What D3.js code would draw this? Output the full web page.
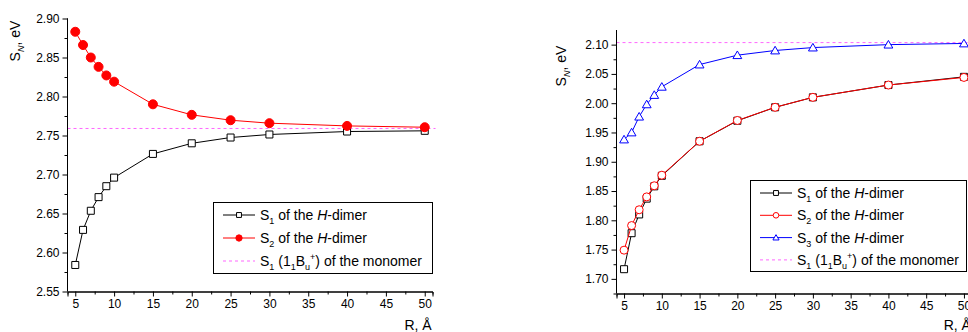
<!DOCTYPE html>
<html>
<head>
<meta charset="utf-8">
<script src="https://cdn.jsdelivr.net/npm/d3@7"></script>
<style>
  html, body { margin: 0; padding: 0; background: #fff; }
  svg { display: block; font-family: Arial, "Liberation Sans", sans-serif; }
</style>
</head>
<body>
<svg id="chart" width="968" height="332"></svg>
<script>
// distances, Å
var distances = [5, 6, 7, 8, 9, 10, 15, 20, 25, 30, 40, 50];

// left panel
var leftS1 = [2.584, 2.629, 2.6535, 2.671, 2.685, 2.696, 2.7264, 2.740, 2.7474, 2.7513, 2.7551, 2.756];
var leftS2 = [2.883, 2.866, 2.850, 2.838, 2.827, 2.819, 2.790, 2.7765, 2.7696, 2.7658, 2.7623, 2.7606];
var leftMonomer = 2.759;
var leftYTicks = [2.55, 2.60, 2.65, 2.70, 2.75, 2.80, 2.85, 2.90];

// right panel
var rightS1 = [1.7165, 1.778, 1.810, 1.837, 1.858, 1.876, 1.935, 1.970, 1.993, 2.010, 2.031, 2.045];
var rightS2 = [1.749, 1.791, 1.818, 1.840, 1.859, 1.877, 1.935, 1.9705, 1.993, 2.010, 2.031, 2.044];
var rightS3 = [1.938, 1.950, 1.977, 1.998, 2.014, 2.028, 2.066, 2.082, 2.090, 2.095, 2.100, 2.102];
var rightMonomer = 2.1035;
var rightYTicks = [1.70, 1.75, 1.80, 1.85, 1.90, 1.95, 2.00, 2.05, 2.10];

var xTicks = [5, 10, 15, 20, 25, 30, 35, 40, 45, 50];

var svg = d3.select('#chart');
var monoColor = '#ff66ff';

function panel(cfg) {
  var g = svg.append('g');
  var x = d3.scaleLinear().domain([4, 51]).range(cfg.xRange);
  var y = d3.scaleLinear().domain(cfg.yDomain).range(cfg.yRange);

  // monomer reference line
  g.append('line')
    .attr('x1', x.range()[0]).attr('x2', x.range()[1] + 3)
    .attr('y1', y(cfg.monomer)).attr('y2', y(cfg.monomer))
    .attr('stroke', monoColor).attr('stroke-width', 1)
    .attr('stroke-dasharray', '3,3');

  // axes
  var yAxis = d3.axisLeft(y).tickValues(cfg.yTicks).tickSize(5).tickPadding(3)
    .tickFormat(d3.format('.2f'));
  var yMinor = d3.axisLeft(y)
    .tickValues(d3.range(cfg.yDomain[0], cfg.yDomain[1], 0.025)
      .filter(function (v) { return Math.abs((v * 40) % 2 - 1) < 0.01; }))
    .tickSize(3).tickFormat('');
  var xAxis = d3.axisBottom(x).tickValues(xTicks).tickSize(5).tickPadding(3);
  var xMinor = d3.axisBottom(x)
    .tickValues(xTicks.map(function (v) { return v + 2.5; }).filter(function (v) { return v < 51; }))
    .tickSize(3).tickFormat('');

  [yAxis, yMinor].forEach(function (ax) {
    g.append('g').attr('transform', 'translate(' + x.range()[0] + ',0)').call(ax)
      .call(function (s) { s.select('.domain').attr('d', 'M0,' + y.range()[0] + 'V' + y.range()[1]); });
  });
  [xAxis, xMinor].forEach(function (ax) {
    g.append('g').attr('transform', 'translate(0,' + y.range()[0] + ')').call(ax);
  });
  g.selectAll('.tick text').attr('font-size', 12).attr('font-family', 'Arial, "Liberation Sans", sans-serif').attr('fill', '#000');
  g.selectAll('.domain, .tick line').attr('stroke', '#000');

  // series
  cfg.series.forEach(function (s) {
    var pts = distances.map(function (d, i) { return [x(d), y(s.values[i])]; });
    g.append('path').attr('d', d3.line()(pts))
      .attr('fill', 'none').attr('stroke', s.color).attr('stroke-width', 1);
    g.append('g').selectAll('path').data(pts).enter().append('path')
      .attr('transform', function (p) { return 'translate(' + p[0] + ',' + p[1] + ')'; })
      .attr('d', markerPath(s.marker, s.size))
      .attr('fill', s.fill).attr('stroke', s.color).attr('stroke-width', 1);
  });

  // y label
  var yl = g.append('text')
    .attr('transform', 'translate(' + cfg.yLabel[0] + ',' + cfg.yLabel[1] + ') rotate(-90)')
    .attr('text-anchor', 'middle').attr('font-size', 14);
  yl.append('tspan').text('S');
  yl.append('tspan').attr('font-size', 9).attr('font-style', 'italic').attr('dy', 4).text('N');
  yl.append('tspan').attr('dy', -4).text(', eV');

  // x label
  g.append('text').attr('x', x(50) + 7).attr('y', 330)
    .attr('text-anchor', 'end').attr('font-size', 14).text('R, Å');

  // legend
  var lg = cfg.legend;
  g.append('rect').attr('x', lg.x + 0.5).attr('y', lg.y + 0.5)
    .attr('width', lg.w).attr('height', lg.h)
    .attr('fill', '#fff').attr('stroke', '#000').attr('stroke-width', 1);
  var entries = cfg.series.concat([{ mono: true }]);
  entries.forEach(function (s, i) {
    var cy = lg.y + lg.first + i * lg.step;
    var lx = lg.x + 10;
    g.append('line').attr('x1', lx).attr('x2', lx + 32).attr('y1', cy).attr('y2', cy)
      .attr('stroke', s.mono ? monoColor : s.color).attr('stroke-width', 1)
      .attr('stroke-dasharray', s.mono ? '3,3' : null);
    if (!s.mono) {
      g.append('path').attr('transform', 'translate(' + (lx + 16) + ',' + cy + ')')
        .attr('d', markerPath(s.marker, s.size * 0.7))
        .attr('fill', s.fill).attr('stroke', s.color).attr('stroke-width', 1);
    }
    var t = g.append('text').attr('x', lx + 37).attr('y', cy + 5).attr('font-size', 14);
    t.append('tspan').text('S');
    if (s.mono) {
      t.append('tspan').attr('font-size', 9).attr('dy', 4).text('1');
      t.append('tspan').attr('dy', -4).text(' (1');
      t.append('tspan').attr('font-size', 9).attr('dy', 4).text('1');
      t.append('tspan').attr('dy', -4).text('B');
      t.append('tspan').attr('font-size', 9).attr('dy', 4).text('u');
      t.append('tspan').attr('font-size', 9).attr('dy', -10).text('+');
      t.append('tspan').attr('dy', 6).text(') of the monomer');
    } else {
      t.append('tspan').attr('font-size', 9).attr('dy', 4).text(s.idx);
      t.append('tspan').attr('dy', -4).text(' of the ');
      t.append('tspan').attr('font-style', 'italic').text('H');
      t.append('tspan').text('-dimer');
    }
  });
}

function markerPath(type, size) {
  var h = size / 2;
  if (type === 'square') return 'M' + -h + ',' + -h + 'h' + size + 'v' + size + 'h' + -size + 'Z';
  if (type === 'circle') return 'M' + -h + ',0a' + h + ',' + h + ' 0 1,0 ' + size + ',0a' + h + ',' + h + ' 0 1,0 ' + -size + ',0';
  // triangle
  return 'M0,' + (-h * 1.05) + 'L' + h * 1.1 + ',' + h * 0.85 + 'L' + -h * 1.1 + ',' + h * 0.85 + 'Z';
}

panel({
  xRange: [67.5, 432.5],
  yDomain: [2.55, 2.90],
  yRange: [291.5, 18.5],
  yTicks: leftYTicks,
  monomer: leftMonomer,
  yLabel: [20, 41],
  legend: { x: 213, y: 202, w: 219, h: 71, first: 13, step: 23 },
  series: [
    { idx: '1', values: leftS1, color: '#000', fill: '#fff', marker: 'square', size: 7 },
    { idx: '2', values: leftS2, color: '#ff0000', fill: '#ff0000', marker: 'circle', size: 9 }
  ]
});

panel({
  xRange: [616.5, 971.5],
  yDomain: [1.675, 2.125],
  yRange: [293.5, 30],
  yTicks: rightYTicks,
  monomer: rightMonomer,
  yLabel: [566, 66],
  legend: { x: 750, y: 180, w: 216, h: 91, first: 13, step: 22.3 },
  series: [
    { idx: '1', values: rightS1, color: '#000', fill: '#fff', marker: 'square', size: 7 },
    { idx: '2', values: rightS2, color: '#ff0000', fill: '#fff', marker: 'circle', size: 8 },
    { idx: '3', values: rightS3, color: '#0000ff', fill: '#fff', marker: 'triangle', size: 8 }
  ]
});
</script>
</body>
</html>
